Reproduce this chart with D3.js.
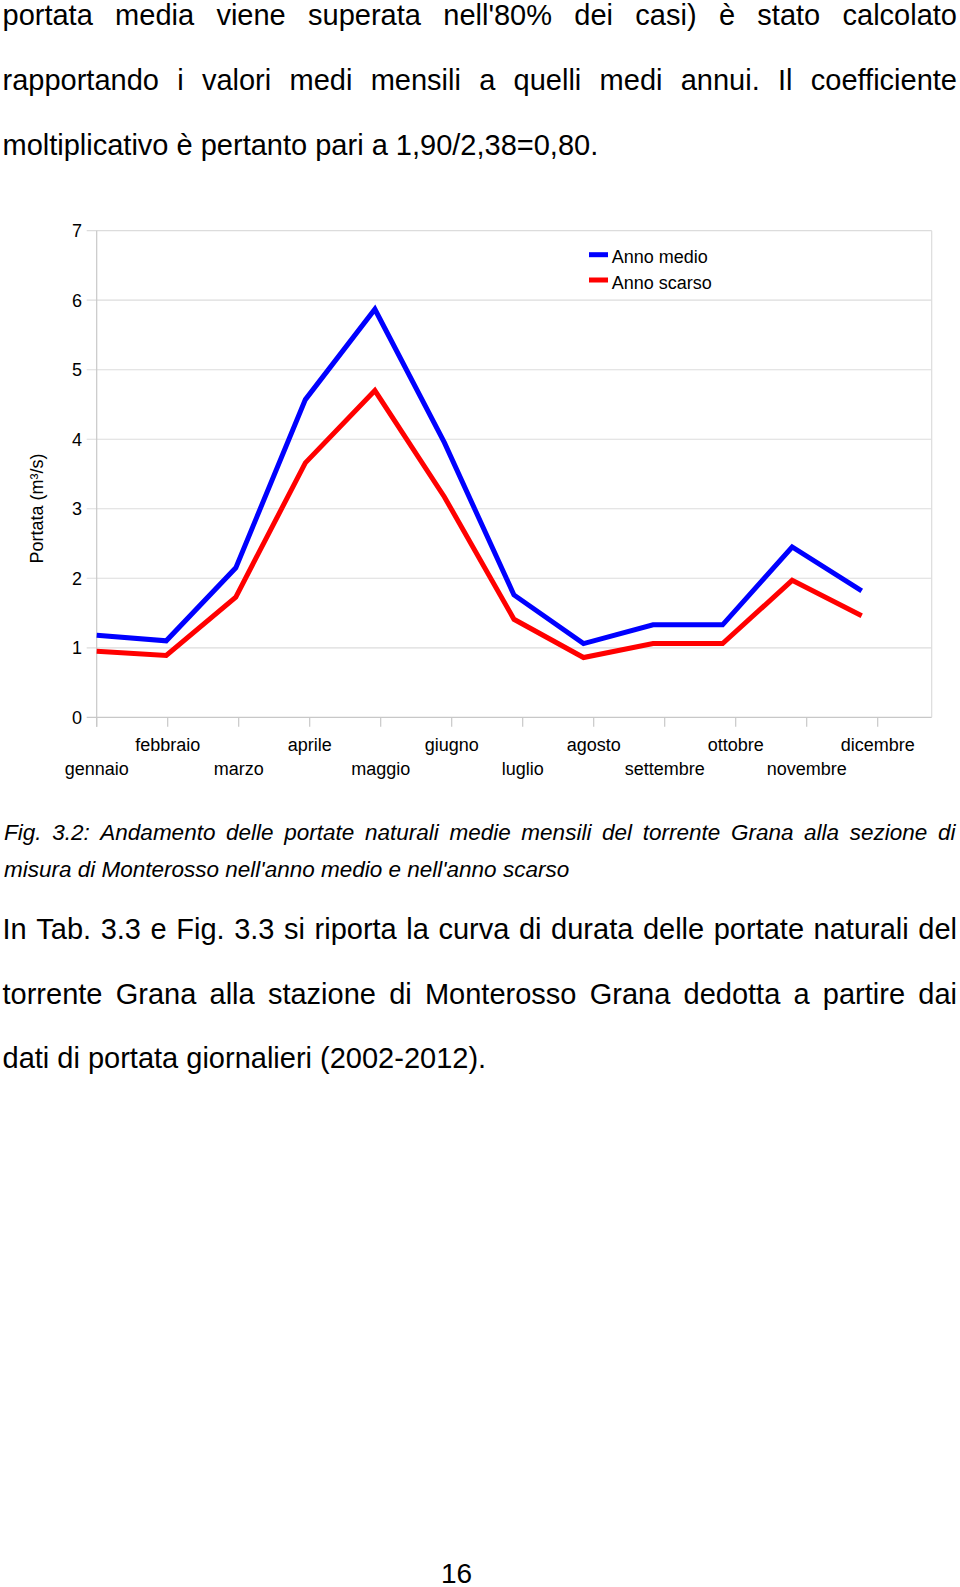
<!DOCTYPE html>
<html>
<head>
<meta charset="utf-8">
<script src="https://cdn.jsdelivr.net/npm/d3@7"></script>
<style>
  html, body { margin: 0; padding: 0; background: #fff; }
  svg { display: block; }
  text { font-family: "Liberation Sans", Arial, sans-serif; fill: #000; }
</style>
</head>
<body>
<svg id="page" width="960" height="1587"></svg>
<script>
// ---- Data ----
const months = ["gennaio", "febbraio", "marzo", "aprile", "maggio", "giugno",
                "luglio", "agosto", "settembre", "ottobre", "novembre", "dicembre"];
const annoMedio  = [1.18, 1.10, 2.15, 4.57, 5.87, 3.95, 1.76, 1.06, 1.33, 1.33, 2.45, 1.82];
const annoScarso = [0.95, 0.89, 1.73, 3.66, 4.70, 3.17, 1.41, 0.86, 1.06, 1.06, 1.97, 1.46];
const yTicks = [0, 1, 2, 3, 4, 5, 6, 7];
const seriesNames = ["Anno medio", "Anno scarso"];
const seriesColors = ["#0000ff", "#ff0000"];
const yTitle = "Portata (m³/s)";

const textBefore = [
  "portata media viene superata nell'80% dei casi) è stato calcolato",
  "rapportando i valori medi mensili a quelli medi annui. Il coefficiente",
  "moltiplicativo è pertanto pari a 1,90/2,38=0,80."
];
const captionLines = [
  "Fig. 3.2: Andamento delle portate naturali medie mensili del torrente Grana alla sezione di",
  "misura di Monterosso nell'anno medio e nell'anno scarso"
];
const textAfter = [
  "In Tab. 3.3 e Fig. 3.3 si riporta la curva di durata delle portate naturali del",
  "torrente Grana alla stazione di Monterosso Grana dedotta a partire dai",
  "dati di portata giornalieri (2002-2012)."
];
const pageNumber = "16";

// ---- Page ----
const svg = d3.select("#page");

function writeLine(str, x0, x1, y, size, italic, justify) {
  const g = svg.append("g");
  if (!justify) {
    g.append("text").attr("x", x0).attr("y", y)
      .style("font-size", size + "px")
      .style("font-style", italic ? "italic" : "normal")
      .text(str);
    return;
  }
  const words = str.split(" ");
  const nodes = words.map(w => g.append("text").attr("y", y)
      .style("font-size", size + "px")
      .style("font-style", italic ? "italic" : "normal")
      .text(w));
  const widths = nodes.map(n => n.node().getComputedTextLength());
  const total = d3.sum(widths);
  const gap = (x1 - x0 - total) / (words.length - 1);
  let x = x0;
  nodes.forEach((n, i) => { n.attr("x", x); x += widths[i] + gap; });
}

const L = 2.5, R = 957;
writeLine(textBefore[0], L, R, 25, 29, false, true);
writeLine(textBefore[1], L, R, 90, 29, false, true);
writeLine(textBefore[2], L, R, 154.5, 29, false, false);

writeLine(captionLines[0], 4, 955.5, 840, 22.5, true, true);
writeLine(captionLines[1], 4, 955.5, 876.5, 22.5, true, false);

writeLine(textAfter[0], L, R, 938.5, 29, false, true);
writeLine(textAfter[1], L, R, 1003.5, 29, false, true);
writeLine(textAfter[2], L, R, 1068, 29, false, false);

svg.append("text").attr("x", 456.5).attr("y", 1583)
  .attr("text-anchor", "middle").style("font-size", "28px").text(pageNumber);

// ---- Chart ----
const plot = { left: 96.7, right: 931.7, top: 230.7, bottom: 717.3 };
const y = d3.scaleLinear().domain([0, 7]).range([plot.bottom, plot.top]);
const xData = d3.scalePoint().domain(months).range([96.7, 861.7]);
const xLab = d3.scalePoint().domain(months).range([96.7, 96.7 + 71 * 11]);

const chart = svg.append("g");

// gridlines + y ticks
chart.append("g").selectAll("line").data(yTicks).join("line")
  .attr("x1", plot.left - 10).attr("x2", plot.right)
  .attr("y1", d => y(d)).attr("y2", d => y(d))
  .attr("stroke", d => d === 0 ? "#c8c8c8" : "#dcdcdc").attr("stroke-width", 1.2);

// right border
chart.append("line").attr("x1", plot.right).attr("x2", plot.right)
  .attr("y1", plot.top).attr("y2", plot.bottom)
  .attr("stroke", "#dcdcdc").attr("stroke-width", 1.2);

// left axis
chart.append("line").attr("x1", plot.left).attr("x2", plot.left)
  .attr("y1", plot.top).attr("y2", plot.bottom + 9.5)
  .attr("stroke", "#c8c8c8").attr("stroke-width", 1.2);

// x ticks
chart.append("g").selectAll("line").data(months).join("line")
  .attr("x1", d => xLab(d)).attr("x2", d => xLab(d))
  .attr("y1", plot.bottom).attr("y2", plot.bottom + 9.5)
  .attr("stroke", "#c8c8c8").attr("stroke-width", 1.2);

// y tick labels
chart.append("g").selectAll("text").data(yTicks).join("text")
  .attr("x", 82).attr("y", d => y(d)).attr("dy", "0.35em")
  .attr("text-anchor", "end").style("font-size", "18px")
  .text(d => d);

// x labels (staggered)
chart.append("g").selectAll("text").data(months).join("text")
  .attr("x", d => xLab(d))
  .attr("y", (d, i) => i % 2 === 1 ? 750.7 : 775)
  .attr("text-anchor", "middle").style("font-size", "18px")
  .text(d => d);

// y title
chart.append("text")
  .attr("transform", "translate(43,508.5) rotate(-90)")
  .attr("text-anchor", "middle").style("font-size", "18px")
  .text(yTitle);

// lines
const lineGen = d3.line().x((d, i) => xData(months[i])).y(d => y(d));
[annoMedio, annoScarso].forEach((vals, k) => {
  chart.append("path").datum(vals)
    .attr("d", lineGen)
    .attr("fill", "none")
    .attr("stroke", seriesColors[k])
    .attr("stroke-width", 5)
    .attr("stroke-linejoin", "miter")
    .attr("stroke-linecap", "butt");
});

// legend
const leg = chart.append("g");
seriesNames.forEach((name, k) => {
  const cy = 254.7 + k * 25.3;
  leg.append("rect").attr("x", 589).attr("y", cy - 2.5)
    .attr("width", 19).attr("height", 5).attr("fill", seriesColors[k]);
  leg.append("text").attr("x", 611.7).attr("y", cy + 8.6)
    .style("font-size", "18px").text(name);
});
</script>
</body>
</html>
